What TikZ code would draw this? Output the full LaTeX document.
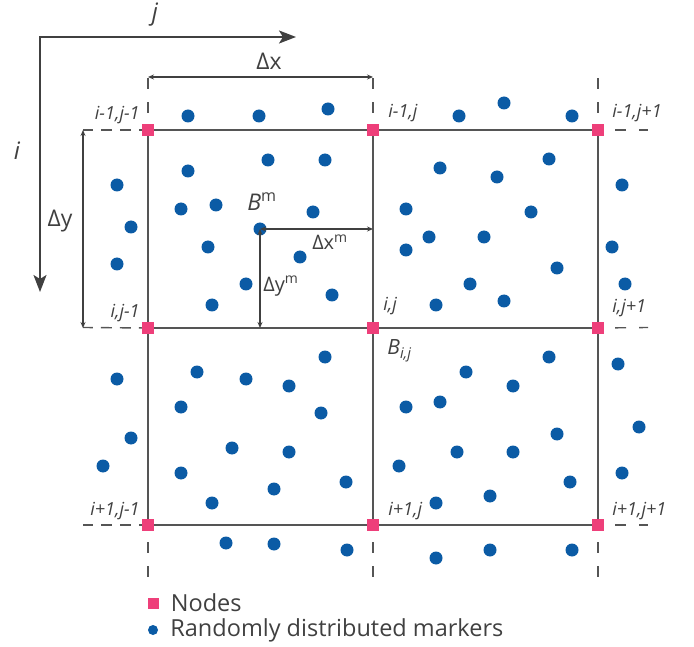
\documentclass[tikz,border=0pt]{standalone}
\usepackage{fontspec}
\setmainfont{Open Sans}
\usetikzlibrary{arrows.meta,positioning}
\definecolor{ink}{HTML}{404040}
\definecolor{gline}{HTML}{555555}
\definecolor{pnk}{HTML}{EE3F7A}
\definecolor{mblue}{HTML}{0B5BA5}
\tikzset{
  >={Stealth[length=6pt,width=5pt]},
  gnode/.style={fill=pnk,minimum size=12pt,inner sep=0pt},
  mk/.style={circle,fill=mblue,minimum size=13pt,inner sep=0pt},
  lab/.style={text=ink,font=\fontsize{18}{20}\selectfont\itshape,inner sep=1pt},
  big/.style={text=ink,font=\fontsize{23}{25}\selectfont,inner sep=1pt},
  small/.style={text=ink,font=\fontsize{20}{22}\selectfont,inner sep=1pt},
  leg/.style={text=ink,font=\fontsize{23.5}{25}\selectfont,inner sep=0pt},
  gl/.style={draw=gline,line width=1.6pt},
  dl/.style={draw=gline,line width=1.4pt,dash pattern=on 11pt off 13pt,dash phase=13pt},
  dll/.style={draw=gline,line width=1.4pt,dash pattern=on 11pt off 8pt,dash phase=8pt},
  dim/.style={<->,draw=ink,line width=1.2pt},
  axis/.style={<->,draw=ink,line width=2pt,>={Stealth[length=17pt,width=13pt,inset=4pt]}},
}
\begin{document}
\begin{tikzpicture}[x=1pt,y=-1pt]
\useasboundingbox (0,0) rectangle (694,647);
% axes
\coordinate (jend) at (296,37);
\coordinate (iend) at (40,292);
\draw[axis] (jend) -| (iend);
\node[text=ink,font=\fontsize{24}{26}\selectfont\itshape] (lj) at (155,15) {j};
\node[text=ink,font=\fontsize{24}{26}\selectfont\itshape] (li) at (17,151) {i};
% grid nodes
\foreach \r/\y in {0/130,1/328,2/525}
  \foreach \c/\x in {0/148,1/373,2/598}
    \node[gnode] (n\r\c) at (\x,\y) {};
\foreach \r in {0,1,2} {
  \draw[gl] (n\r0) -- (n\r1) -- (n\r2);
  \coordinate (w\r) at (83,{130+197.5*\r});
  \coordinate (e\r) at (648,{130+197.5*\r});
  \draw[dll] (n\r0) -- (w\r);
  \draw[dl] (n\r2) -- (e\r);
}
\foreach \c in {0,1,2} {
  \draw[gl] (n0\c) -- (n1\c) -- (n2\c);
  \coordinate (t\c) at ({148+225*\c},76);
  \coordinate (b\c) at ({148+225*\c},578);
  \draw[dl] (n0\c) -- (t\c);
  \draw[dl] (n2\c) -- (b\c);
}
% node labels
\node[lab,above left=-1pt and 1pt of n00] (l00) {i-1,j-1};
\node[lab,above right=1pt and 8pt of n01] (l01) {i-1,j};
\node[lab,above right=1pt and 7pt of n02] (l02) {i-1,j+1};
\node[lab,above left=-1pt and 1pt of n10] (l10) {i,j-1};
\node[lab,above right=6pt and 3pt of n11] (l11) {i,j};
\node[lab,above right=4pt and 7pt of n12] (l12) {i,j+1};
\node[lab,above left=-2pt and 1pt of n20] (l20) {i+1,j-1};
\node[lab,above right=-2pt and 8pt of n21] (l21) {i+1,j};
\node[lab,above right=-2pt and 7pt of n22] (l22) {i+1,j+1};
\node[lab,font=\fontsize{21}{23}\selectfont\itshape,below right=4pt and 7pt of n11] (bij) {B\textsubscript{\itshape i,j}};
% markers
\foreach \x/\y [count=\k] in {188/116,259/116,328/109,188/171,268/160,325/160,117/185,181/209,
  216/205,313/212,131/227,208/247,300/257,117/264,246/284,212/305,332/295,
  459/116,504/103,572/116,440/168,497/177,549/159,622/185,406/209,531/212,
  429/237,484/237,406/250,612/247,557/268,625/284,470/284,436/305,504/301,
  325/357,117/379,197/372,246/379,289/386,181/407,321/413,131/438,232/448,
  289/452,103/466,181/473,274/489,346/482,212/503,226/543,274/544,347/550,
  549/357,466/372,513/386,618/364,406/407,440/402,557/434,639/427,457/452,
  513/452,399/466,622/473,570/482,436/503,490/496,436/558,490/550,572/550}
  \node[mk] (m\k) at (\x,\y) {};
\node[mk] (bm) at (260,229) {};
\node[big,font=\fontsize{23}{25}\selectfont\itshape] (lbm) at (262,202) {B\textsuperscript{\upshape m}};
% spacings
\coordinate (dxl) at (148,77);
\coordinate (dxr) at (373,77);
\draw[dim] (dxl) -- (dxr);
\node[big] (ldx) at (269,61) {Δx};
\coordinate (dyt) at (83,130);
\coordinate (dyb) at (83,328);
\draw[dim] (dyt) -- (dyb);
\node[big] (ldy) at (60,221) {Δy};
\coordinate (bx) at (373,229);
\coordinate (by) at (260,328);
\draw[dim] (bm.center) -- (bx);
\draw[dim] (bm.center) -- (by);
\node[small] (ldxm) at (330,242) {Δx\textsuperscript{m}};
\node[small] (ldym) at (281,286) {Δy\textsuperscript{m}};
% legend
\node[gnode,minimum size=11pt] (lgn) at (153,603) {};
\node[leg,right=12pt of lgn] (lgnt) {Nodes};
\node[mk,minimum size=10pt] (lgm) at (153,630) {};
\node[leg,right=12pt of lgm] (lgmt) {Randomly distributed markers};
\end{tikzpicture}
\end{document}
